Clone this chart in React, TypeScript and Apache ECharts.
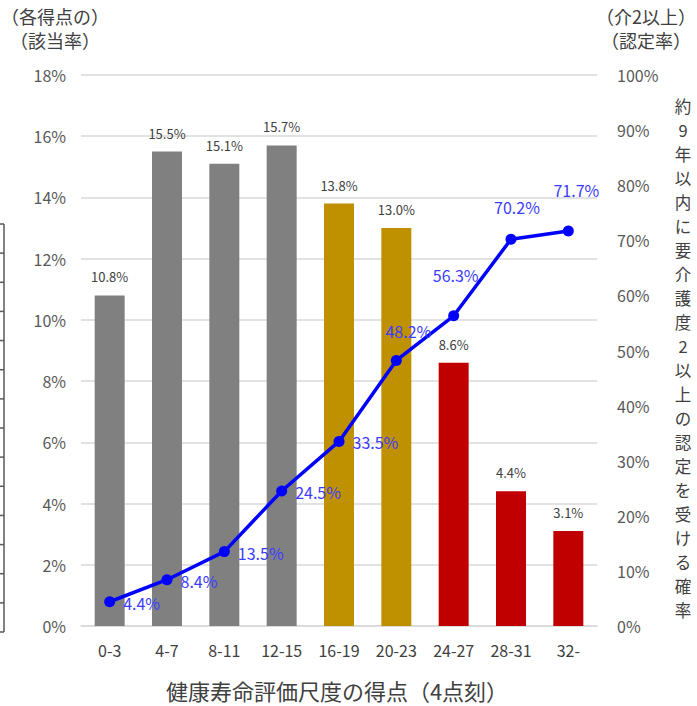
import React, { useEffect, useRef } from "react";
import * as echarts from "echarts";

const categories = ["0-3", "4-7", "8-11", "12-15", "16-19", "20-23", "24-27", "28-31", "32-"];
const barValues = [10.8, 15.5, 15.1, 15.7, 13.8, 13.0, 8.6, 4.4, 3.1];
const barGroups = ["low", "low", "low", "low", "mid", "mid", "high", "high", "high"];
const lineValues = [4.4, 8.4, 13.5, 24.5, 33.5, 48.2, 56.3, 70.2, 71.7];
const leftTitle = ["（各得点の）", "（該当率）"];
const rightTitle = ["（介2以上）", "（認定率）"];
const verticalTitle = "約9年以内に要介護度2以上の認定を受ける確率";
const xTitle = "健康寿命評価尺度の得点（4点刻）";

const FONT = "'Noto Sans CJK JP', 'Noto Sans', sans-serif";
const GROUP_COLORS: Record<string, string> = { low: "#808080", mid: "#BF9000", high: "#C00000" };

export default function App() {
  const ref = useRef<HTMLDivElement>(null);
  useEffect(() => {
    if (!ref.current) return;
    const chart = echarts.init(ref.current, null, { renderer: "svg" });

    // label placement per point (style only)
    const labelStyle = (i: number) => {
      if (i < 5) return { position: "right", distance: 8, offset: [0, 1] };
      const dy = [-11, -22, -14, -22][i - 5];
      const dx = [12, 2, 6, 8][i - 5];
      return { position: "top", distance: 5, offset: [dx, dy] };
    };

    const artifact: any[] = [];
    artifact.push({ type: "line", shape: { x1: 4, y1: 224, x2: 4, y2: 632 }, style: { stroke: "#595959", lineWidth: 1.5 } });
    for (let i = 0; i <= 14; i++) {
      const y = 224 + (i * (632 - 224)) / 14;
      artifact.push({ type: "line", shape: { x1: 0, y1: y, x2: 4, y2: y }, style: { stroke: "#595959", lineWidth: 1.5 } });
    }

    const chars = verticalTitle.split("");
    const vertical = chars.map((c, i) => ({
      type: "text",
      x: 683,
      y: 106 + i * 24,
      style: { text: c, fill: "#404040", font: `16.5px ${FONT}`, textAlign: "center", textVerticalAlign: "middle" },
    }));

    const titleText = (t: string, x: number, y: number, size: number) => ({
      type: "text",
      x,
      y,
      style: { text: t, fill: "#404040", font: `${size}px ${FONT}`, textAlign: "center", textVerticalAlign: "middle" },
    });

    chart.setOption({
      animation: false,
      textStyle: { fontFamily: FONT },
      grid: { left: 81, right: 100, top: 75, bottom: 80 },
      xAxis: {
        type: "category",
        data: categories,
        axisLine: { lineStyle: { color: "#d9d9d9", width: 1.5 } },
        axisTick: { show: false },
        axisLabel: { color: "#404040", fontSize: 16, margin: 16, fontFamily: FONT },
      },
      yAxis: [
        {
          type: "value",
          min: 0,
          max: 18,
          interval: 2,
          axisLine: { show: false },
          axisTick: { show: false },
          axisLabel: { formatter: "{value}%", color: "#595959", fontSize: 16, margin: 15, fontFamily: FONT },
          splitLine: { lineStyle: { color: "#d9d9d9", width: 1.5 } },
        },
        {
          type: "value",
          min: 0,
          max: 100,
          interval: 10,
          axisLine: { show: false },
          axisTick: { show: false },
          axisLabel: { formatter: "{value}%", color: "#595959", fontSize: 16, margin: 20, fontFamily: FONT },
          splitLine: { show: false },
        },
      ],
      series: [
        {
          type: "bar",
          yAxisIndex: 0,
          barWidth: 30,
          data: barValues.map((v, i) => ({ value: v, itemStyle: { color: GROUP_COLORS[barGroups[i]] } })),
          label: {
            show: true,
            position: "top",
            distance: 12,
            color: "#404040",
            fontSize: 13,
            fontFamily: FONT,
            formatter: (p: any) => p.value.toFixed(1) + "%",
          },
        },
        {
          type: "line",
          yAxisIndex: 1,
          data: lineValues.map((v, i) => ({ value: v, label: labelStyle(i) })),
          lineStyle: { color: "#0000FF", width: 3.5 },
          itemStyle: { color: "#0000FF" },
          symbol: "circle",
          symbolSize: 11,
          label: {
            show: true,
            color: "#3c3cff",
            fontSize: 16,
            fontFamily: FONT,
            formatter: (p: any) => p.value.toFixed(1) + "%",
          },
        },
      ],
      graphic: [
        ...artifact,
        titleText(leftTitle[0], 55, 16, 18),
        titleText(leftTitle[1], 55, 40, 18),
        titleText(rightTitle[0], 646, 16, 18),
        titleText(rightTitle[1], 646, 40, 18),
        ...vertical,
        titleText(xTitle, 337, 690, 22),
      ],
    });
    return () => chart.dispose();
  }, []);
  return <div ref={ref} style={{ width: 697, height: 706, position: "absolute", left: 0, top: 0 }} />;
}
